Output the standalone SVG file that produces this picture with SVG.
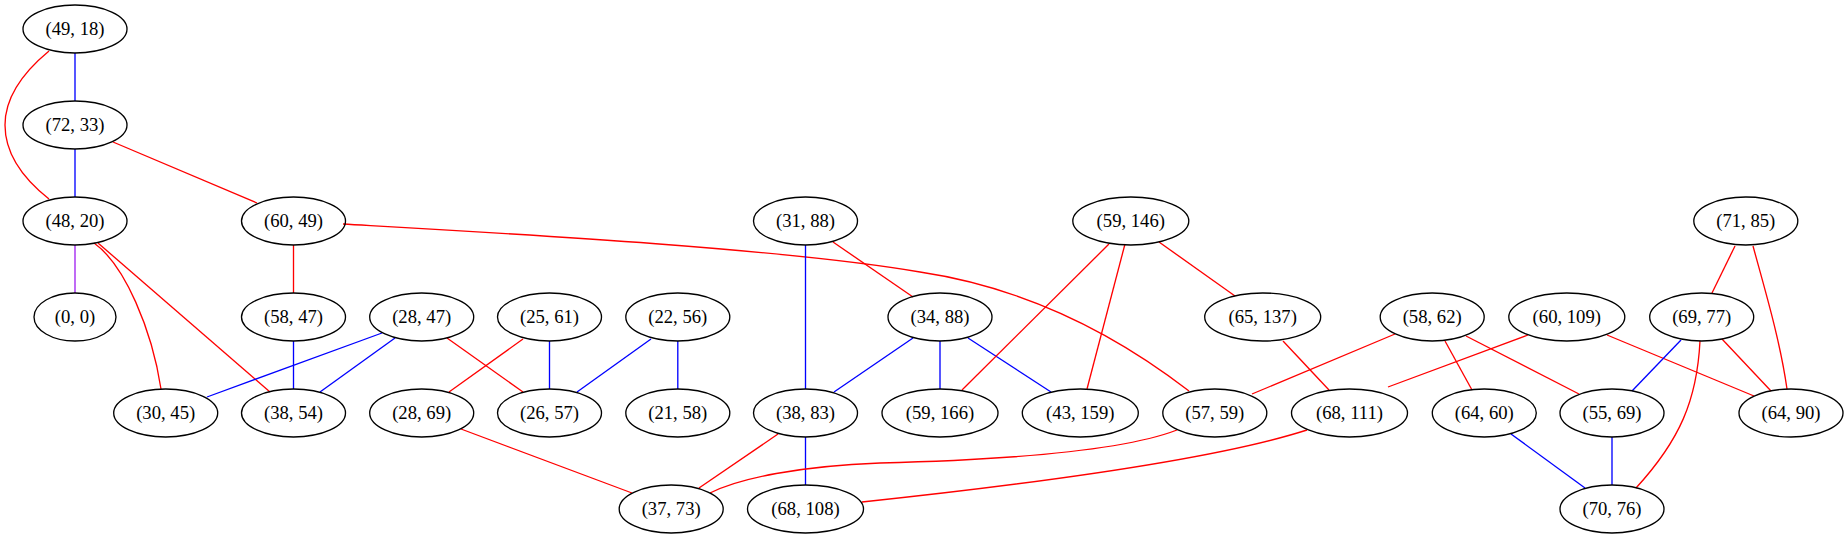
<svg xmlns="http://www.w3.org/2000/svg" width="1848" height="539" viewBox="0 0 1848 539">
<style>
.n ellipse{fill:none;stroke:#000;stroke-width:1.33}
.n text{font-family:'Liberation Serif','Times New Roman',Times,serif;font-size:18.67px;text-anchor:middle;fill:#000}
#edges path,#edges line{fill:none;stroke-width:1.33}
.r{stroke:#ff0000}
.b{stroke:#0000ff}
.p{stroke:#a020f0}
</style>
<rect width="1848" height="539" fill="#fff"/>
<g id="edges">
<line class="b" x1="75" y1="53" x2="75" y2="101"/>
<path class="r" d="M49,51 C20,75 5,100 5,125 C5,155 25,180 49,199"/>
<line class="b" x1="75" y1="149" x2="75" y2="197"/>
<line class="r" x1="113" y1="142" x2="257" y2="203"/>
<line class="p" x1="75" y1="245" x2="75" y2="293"/>
<path class="r" d="M94,243 C125,265 152,330 161,389"/>
<line class="r" x1="98" y1="243" x2="270" y2="392"/>
<line class="r" x1="293.5" y1="245" x2="293.5" y2="293"/>
<path class="r" d="M343,224 C500,233 780,248 920,272 C1020,287 1110,330 1189,391"/>
<line class="b" x1="293.5" y1="341" x2="293.5" y2="389"/>
<line class="b" x1="382" y1="333" x2="207" y2="397"/>
<line class="b" x1="395" y1="338" x2="320" y2="392"/>
<line class="r" x1="447" y1="338" x2="523" y2="392"/>
<line class="r" x1="523" y1="339" x2="449" y2="392"/>
<line class="b" x1="549.5" y1="341" x2="549.5" y2="389"/>
<line class="b" x1="651" y1="339" x2="577" y2="392"/>
<line class="b" x1="677.8" y1="341" x2="677.8" y2="389"/>
<line class="r" x1="461" y1="429" x2="632" y2="493"/>
<line class="b" x1="805.5" y1="245" x2="805.5" y2="389"/>
<line class="r" x1="833" y1="242" x2="913" y2="297"/>
<line class="b" x1="913" y1="338" x2="834" y2="392"/>
<line class="b" x1="940" y1="341" x2="940" y2="389"/>
<line class="b" x1="968" y1="338" x2="1051" y2="392"/>
<line class="r" x1="1109" y1="244" x2="962" y2="390"/>
<line class="r" x1="1125" y1="244" x2="1087" y2="389"/>
<line class="r" x1="1159" y1="242" x2="1235" y2="296"/>
<line class="r" x1="778" y1="434" x2="699" y2="488"/>
<line class="b" x1="805.5" y1="437" x2="805.5" y2="485"/>
<path class="r" d="M1177,430 C1120,452 1000,460 880,463 C800,466 740,478 710,493"/>
<path class="r" d="M1307,430 C1220,458 1050,482 862,502"/>
<line class="r" x1="1283" y1="341" x2="1329" y2="390"/>
<line class="r" x1="1395" y1="334" x2="1252" y2="394"/>
<line class="r" x1="1445" y1="341" x2="1472" y2="390"/>
<line class="r" x1="1466" y1="336" x2="1579" y2="394"/>
<line class="r" x1="1528" y1="335" x2="1388" y2="387"/>
<line class="r" x1="1607" y1="335" x2="1754" y2="396"/>
<line class="b" x1="1511" y1="434" x2="1585" y2="488"/>
<line class="b" x1="1612" y1="437" x2="1612" y2="485"/>
<line class="b" x1="1681" y1="340" x2="1632" y2="391"/>
<path class="r" d="M1700,341 C1697,400 1680,440 1636,488"/>
<line class="r" x1="1722" y1="339" x2="1771" y2="391"/>
<line class="r" x1="1735" y1="246" x2="1712" y2="293"/>
<path class="r" d="M1753,246 C1765,290 1780,340 1787,389"/>
</g>
<g id="n49_18" class="n"><ellipse cx="75" cy="29" rx="52" ry="24"/><text x="75" y="35">(49, 18)</text></g>
<g id="n72_33" class="n"><ellipse cx="75" cy="125" rx="52" ry="24"/><text x="75" y="131">(72, 33)</text></g>
<g id="n48_20" class="n"><ellipse cx="75" cy="221" rx="52" ry="24"/><text x="75" y="227">(48, 20)</text></g>
<g id="n60_49" class="n"><ellipse cx="293.5" cy="221" rx="52" ry="24"/><text x="293.5" y="227">(60, 49)</text></g>
<g id="n0_0" class="n"><ellipse cx="75" cy="317" rx="41" ry="24"/><text x="75" y="323">(0, 0)</text></g>
<g id="n58_47" class="n"><ellipse cx="293.5" cy="317" rx="52" ry="24"/><text x="293.5" y="323">(58, 47)</text></g>
<g id="n28_47" class="n"><ellipse cx="421.7" cy="317" rx="52" ry="24"/><text x="421.7" y="323">(28, 47)</text></g>
<g id="n30_45" class="n"><ellipse cx="165.7" cy="413" rx="52" ry="24"/><text x="165.7" y="419">(30, 45)</text></g>
<g id="n38_54" class="n"><ellipse cx="293.5" cy="413" rx="52" ry="24"/><text x="293.5" y="419">(38, 54)</text></g>
<g id="n28_69" class="n"><ellipse cx="421.7" cy="413" rx="52" ry="24"/><text x="421.7" y="419">(28, 69)</text></g>
<g id="n25_61" class="n"><ellipse cx="549.5" cy="317" rx="52" ry="24"/><text x="549.5" y="323">(25, 61)</text></g>
<g id="n26_57" class="n"><ellipse cx="549.5" cy="413" rx="52" ry="24"/><text x="549.5" y="419">(26, 57)</text></g>
<g id="n22_56" class="n"><ellipse cx="677.8" cy="317" rx="52" ry="24"/><text x="677.8" y="323">(22, 56)</text></g>
<g id="n21_58" class="n"><ellipse cx="677.8" cy="413" rx="52" ry="24"/><text x="677.8" y="419">(21, 58)</text></g>
<g id="n31_88" class="n"><ellipse cx="805.5" cy="221" rx="52" ry="24"/><text x="805.5" y="227">(31, 88)</text></g>
<g id="n38_83" class="n"><ellipse cx="805.5" cy="413" rx="52" ry="24"/><text x="805.5" y="419">(38, 83)</text></g>
<g id="n34_88" class="n"><ellipse cx="940" cy="317" rx="52" ry="24"/><text x="940" y="323">(34, 88)</text></g>
<g id="n59_166" class="n"><ellipse cx="940" cy="413" rx="58" ry="24"/><text x="940" y="419">(59, 166)</text></g>
<g id="n43_159" class="n"><ellipse cx="1080.3" cy="413" rx="58" ry="24"/><text x="1080.3" y="419">(43, 159)</text></g>
<g id="n59_146" class="n"><ellipse cx="1130.8" cy="221" rx="58" ry="24"/><text x="1130.8" y="227">(59, 146)</text></g>
<g id="n37_73" class="n"><ellipse cx="671.2" cy="509" rx="52" ry="24"/><text x="671.2" y="515">(37, 73)</text></g>
<g id="n68_108" class="n"><ellipse cx="805.5" cy="509" rx="58" ry="24"/><text x="805.5" y="515">(68, 108)</text></g>
<g id="n65_137" class="n"><ellipse cx="1262.7" cy="317" rx="58" ry="24"/><text x="1262.7" y="323">(65, 137)</text></g>
<g id="n58_62" class="n"><ellipse cx="1432.2" cy="317" rx="52" ry="24"/><text x="1432.2" y="323">(58, 62)</text></g>
<g id="n60_109" class="n"><ellipse cx="1566.8" cy="317" rx="58" ry="24"/><text x="1566.8" y="323">(60, 109)</text></g>
<g id="n57_59" class="n"><ellipse cx="1214.8" cy="413" rx="52" ry="24"/><text x="1214.8" y="419">(57, 59)</text></g>
<g id="n68_111" class="n"><ellipse cx="1349.5" cy="413" rx="58" ry="24"/><text x="1349.5" y="419">(68, 111)</text></g>
<g id="n64_60" class="n"><ellipse cx="1484.3" cy="413" rx="52" ry="24"/><text x="1484.3" y="419">(64, 60)</text></g>
<g id="n55_69" class="n"><ellipse cx="1612" cy="413" rx="52" ry="24"/><text x="1612" y="419">(55, 69)</text></g>
<g id="n70_76" class="n"><ellipse cx="1612" cy="509" rx="52" ry="24"/><text x="1612" y="515">(70, 76)</text></g>
<g id="n69_77" class="n"><ellipse cx="1701.7" cy="317" rx="52" ry="24"/><text x="1701.7" y="323">(69, 77)</text></g>
<g id="n71_85" class="n"><ellipse cx="1745.8" cy="221" rx="52" ry="24"/><text x="1745.8" y="227">(71, 85)</text></g>
<g id="n64_90" class="n"><ellipse cx="1791" cy="413" rx="52" ry="24"/><text x="1791" y="419">(64, 90)</text></g>
</svg>
